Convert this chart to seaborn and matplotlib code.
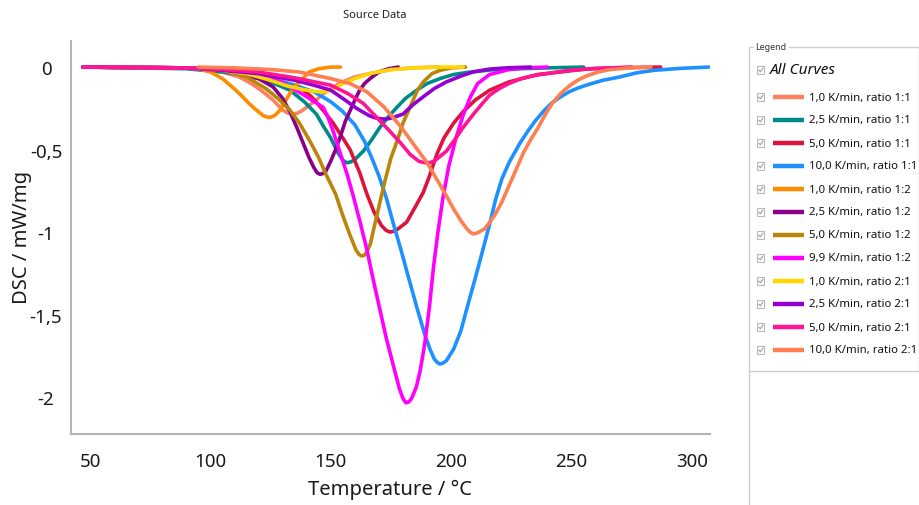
import matplotlib
matplotlib.use("Agg")
import matplotlib.pyplot as plt
import pandas as pd
import seaborn as sns
from matplotlib.lines import Line2D
from matplotlib.patches import Rectangle
from matplotlib.ticker import FuncFormatter

# ---- run labels and colours -------------------------------------------------
run_labels = [
    "1,0 K/min, ratio 1:1", "2,5 K/min, ratio 1:1", "5,0 K/min, ratio 1:1",
    "10,0 K/min, ratio 1:1", "1,0 K/min, ratio 1:2", "2,5 K/min, ratio 1:2",
    "5,0 K/min, ratio 1:2", "9,9 K/min, ratio 1:2", "1,0 K/min, ratio 2:1",
    "2,5 K/min, ratio 2:1", "5,0 K/min, ratio 2:1", "10,0 K/min, ratio 2:1",
]
run_colors = [
    "#FF8060", "#008B8B", "#DC143C", "#1E90FF", "#FF8C00", "#8B008B",
    "#B8860B", "#FF00FF", "#FFD700", "#9400D3", "#FF1493", "#FF7F50",
]

# ---- DSC signal (mW/mg) against temperature (°C) for each run ---------------
t_11_1 = [47, 90, 105, 112, 117, 121, 126, 130, 132, 134, 136, 138, 143, 148, 154, 160, 166, 175, 185, 195]
d_11_1 = [0, -0.005, -0.03, -0.06, -0.1, -0.14, -0.2, -0.26, -0.278, -0.285, -0.28, -0.265, -0.21,
          -0.15, -0.095, -0.06, -0.04, -0.015, -0.004, 0]

t_11_25 = [47, 90, 105, 115, 125, 133, 139, 144, 147, 150, 153, 155, 156.6, 158.3, 160, 163.5, 167,
           170.4, 174, 177.4, 181, 185.7, 190, 195.3, 201, 208, 216, 224, 240, 255]
d_11_25 = [0, -0.01, -0.03, -0.05, -0.09, -0.14, -0.21, -0.285, -0.36, -0.43, -0.52, -0.565, -0.58,
           -0.575, -0.56, -0.51, -0.44, -0.365, -0.3, -0.245, -0.19, -0.14, -0.1, -0.07, -0.045,
           -0.03, -0.018, -0.012, -0.005, 0]

t_11_5 = [47, 90, 105, 115, 125, 137, 142, 147, 151, 155, 158, 162, 165, 168, 171, 173, 174.6,
          176.3, 178, 181.5, 185, 188.4, 191, 194, 197, 201, 205, 210, 216, 224, 236, 256, 270, 287]
d_11_5 = [0, -0.005, -0.02, -0.04, -0.07, -0.12, -0.18, -0.265, -0.34, -0.43, -0.5, -0.64, -0.77,
          -0.88, -0.96, -0.99, -1.0, -0.995, -0.98, -0.94, -0.85, -0.76, -0.66, -0.53, -0.43,
          -0.34, -0.27, -0.2, -0.14, -0.09, -0.045, -0.012, -0.004, 0]

t_11_10 = [47, 90, 105, 120, 135, 143, 150, 155, 160, 164, 167, 170, 173, 176, 179, 182, 186,
           189, 191.2, 193, 194.2, 195.3, 196.5, 198, 201, 204, 206.4, 210, 213.3, 216, 218.5, 221,
           224, 228.6, 232, 235, 238.5, 242, 245.5, 249, 252.5, 256, 263, 270, 277, 284, 295, 307]
d_11_10 = [0, -0.005, -0.02, -0.05, -0.11, -0.15, -0.21, -0.27, -0.35, -0.45, -0.55, -0.66,
           -0.79, -0.95, -1.1, -1.26, -1.47, -1.62, -1.71, -1.77, -1.79, -1.8, -1.795, -1.78,
           -1.71, -1.6, -1.47, -1.28, -1.1, -0.95, -0.8, -0.68, -0.58, -0.46, -0.385, -0.325,
           -0.265, -0.215, -0.18, -0.15, -0.128, -0.11, -0.08, -0.06, -0.035, -0.02, -0.008, 0]

t_12_1 = [47, 90, 95, 100, 105, 109, 112, 116, 119, 122, 123.3, 124.5, 125.8, 127, 129, 131,
          133, 135, 137, 139, 141, 145, 150, 154]
d_12_1 = [0, -0.005, -0.01, -0.03, -0.07, -0.12, -0.16, -0.22, -0.26, -0.295, -0.302, -0.305,
          -0.3, -0.29, -0.26, -0.21, -0.16, -0.12, -0.09, -0.06, -0.03, -0.01, 0, 0]

t_12_25 = [47, 90, 105, 115, 120, 126, 130, 133, 136, 138.5, 141, 143, 144.3, 145.5, 146.8, 148,
           150, 152, 154, 156, 158, 160, 162, 164, 166.3, 170, 174, 178]
d_12_25 = [0, -0.005, -0.02, -0.05, -0.07, -0.12, -0.19, -0.27, -0.37, -0.46, -0.55, -0.61,
           -0.64, -0.65, -0.645, -0.63, -0.57, -0.5, -0.42, -0.33, -0.265, -0.2, -0.14, -0.1,
           -0.07, -0.03, -0.01, 0]

t_12_5 = [47, 90, 105, 115, 123, 128, 133, 137, 141, 145, 148, 152, 155, 158, 160.5, 161.7,
          162.8, 164, 165, 166.5, 168, 170.4, 172.5, 175, 177.5, 180, 183, 186, 188.4, 192, 195.3,
          200, 206]
d_12_5 = [0, -0.005, -0.02, -0.06, -0.13, -0.19, -0.26, -0.34, -0.44, -0.55, -0.65, -0.77,
          -0.9, -1.02, -1.11, -1.135, -1.145, -1.14, -1.12, -1.07, -0.97, -0.82, -0.69, -0.55,
          -0.45, -0.34, -0.24, -0.14, -0.09, -0.04, -0.02, -0.005, 0]

t_12_99 = [47, 90, 105, 120.6, 128, 134.3, 140, 146.9, 149, 151, 153, 155, 157, 159.3, 162,
           164.9, 167.5, 170.4, 173, 176, 178.5, 180, 181.2, 182.4, 183.5, 185.5, 187, 189, 191,
           192.6, 194.5, 196.5, 199, 202, 205, 208, 211, 216, 224, 232, 240]
d_12_99 = [0, -0.005, -0.015, -0.04, -0.08, -0.13, -0.18, -0.245, -0.31, -0.39, -0.48, -0.57,
           -0.66, -0.78, -0.93, -1.1, -1.28, -1.47, -1.64, -1.81, -1.95, -2.01, -2.035, -2.03,
           -2.01, -1.94, -1.85, -1.68, -1.45, -1.22, -1.0, -0.8, -0.6, -0.43, -0.29, -0.18,
           -0.1, -0.045, -0.015, -0.004, 0]

t_21_1 = [47, 90, 105, 115, 125, 132, 138, 142, 145, 148, 150, 155, 160, 166, 175, 185, 195, 205]
d_21_1 = [0, -0.005, -0.02, -0.04, -0.08, -0.115, -0.135, -0.145, -0.15, -0.148, -0.14, -0.1,
          -0.07, -0.04, -0.015, -0.005, 0, 0]

t_21_25 = [47, 90, 105, 120, 135, 143, 150, 155, 160.7, 166, 169, 171.8, 174, 176, 180, 184,
           188.4, 193, 198, 204, 209, 216, 224, 233]
d_21_25 = [0, -0.005, -0.02, -0.04, -0.08, -0.11, -0.14, -0.19, -0.25, -0.295, -0.31, -0.315,
           -0.313, -0.305, -0.285, -0.23, -0.18, -0.13, -0.09, -0.055, -0.03, -0.012, -0.004, 0]

t_21_5 = [47, 90, 105, 120, 135, 150, 157, 163.5, 170, 174.6, 179, 183, 186.5, 188.2, 189.8,
          191.4, 193, 198, 201.5, 205, 209, 213, 216, 220, 224, 229, 235, 249, 260, 275]
d_21_5 = [0, -0.005, -0.015, -0.03, -0.065, -0.11, -0.16, -0.22, -0.32, -0.39, -0.46, -0.53,
          -0.57, -0.578, -0.58, -0.578, -0.57, -0.51, -0.44, -0.365, -0.29, -0.22, -0.17, -0.13,
          -0.1, -0.07, -0.05, -0.02, -0.008, 0]

t_21_10 = [95, 110, 125, 137, 150, 158, 165, 172, 179, 185, 190, 194, 198, 201, 204, 206.5,
           207.8, 209, 210.3, 211.5, 214, 218, 221, 224, 227, 230, 233, 236, 239, 242, 245.5, 249,
           252.5, 256, 261, 266, 274, 283]
d_21_10 = [0, -0.005, -0.015, -0.03, -0.07, -0.1, -0.15, -0.24, -0.36, -0.48, -0.58, -0.68,
           -0.78, -0.86, -0.93, -0.98, -1.0, -1.01, -1.008, -1.0, -0.98, -0.9, -0.82, -0.72,
           -0.62, -0.52, -0.44, -0.37, -0.29, -0.22, -0.16, -0.115, -0.08, -0.055, -0.03,
           -0.015, -0.005, 0]

x_ticks = [50, 100, 150, 200, 250, 300]
y_ticks = [0, -0.5, -1, -1.5, -2]

runs = [
    (t_11_1, d_11_1), (t_11_25, d_11_25), (t_11_5, d_11_5), (t_11_10, d_11_10),
    (t_12_1, d_12_1), (t_12_25, d_12_25), (t_12_5, d_12_5), (t_12_99, d_12_99),
    (t_21_1, d_21_1), (t_21_25, d_21_25), (t_21_5, d_21_5), (t_21_10, d_21_10),
]
frames = []
for label, (t, d) in zip(run_labels, runs):
    frames.append(pd.DataFrame({"Temperature": t, "DSC": d, "run": label}))
df = pd.concat(frames, ignore_index=True)

# ---- styling ----------------------------------------------------------------
sns.set_theme(style="white")
plt.rcParams["font.family"] = ["Noto Sans", "DejaVu Sans"]

W, H = 920, 506
fig = plt.figure(figsize=(W / 100, H / 100), dpi=100)


def fx(x):
    return x / W


def fy(y):
    return 1 - y / H


ax_left, ax_right, ax_top, ax_bottom = 71, 710, 42, 435
ax_w, ax_h = ax_right - ax_left, ax_bottom - ax_top
ax = fig.add_axes([fx(ax_left), fy(ax_bottom), ax_w / W, ax_h / H])

sns.lineplot(
    data=df, x="Temperature", y="DSC", hue="run", hue_order=run_labels,
    palette=dict(zip(run_labels, run_colors)), sort=False, estimator=None,
    linewidth=2.6, legend=False, ax=ax, solid_capstyle="round", solid_joinstyle="round",
)

ax.set_xlim(42.1, 307.5)
ax.set_ylim(-2.224, 0.158)
ax.set_xticks(x_ticks)
ax.set_yticks(y_ticks)
comma = FuncFormatter(lambda v, _: f"{v:g}".replace(".", ","))
ax.xaxis.set_major_formatter(comma)
ax.yaxis.set_major_formatter(comma)

spine_col = "#b4b4b4"
for side in ("top", "right"):
    ax.spines[side].set_visible(False)
for side in ("left", "bottom"):
    ax.spines[side].set_color(spine_col)
    ax.spines[side].set_linewidth(1.5)
ax.tick_params(axis="both", which="major", length=4, width=1, color=spine_col,
               labelsize=13.5, labelcolor="#1a1a1a")
ax.tick_params(axis="x", pad=9)
ax.tick_params(axis="y", pad=14)
for lab in ax.get_yticklabels():
    lab.set_horizontalalignment("center")

ax.set_xlabel("Temperature / °C", fontsize=14.5, color="#1a1a1a")
ax.set_ylabel("DSC / mW/mg", fontsize=14.5, color="#1a1a1a")
ax.xaxis.set_label_coords((390 - ax_left) / ax_w, -(490 - ax_bottom) / ax_h)
ax.yaxis.set_label_coords(-(ax_left - 22) / ax_w, (ax_bottom - 237) / ax_h)
ax.xaxis.label.set_va("center")
ax.yaxis.label.set_va("center")

fig.text(fx(375), fy(15), "Source Data", fontsize=8, ha="center", va="center", color="#222222")

# ---- legend panel -----------------------------------------------------------
box_col = "#cfcfcf"
box_l, box_r, box_t, box_b = 749, 919, 48, 372


def hline(x0, x1, y, **kw):
    fig.add_artist(Line2D([fx(x0), fx(x1)], [fy(y), fy(y)], transform=fig.transFigure, **kw))


def vline(x, y0, y1, **kw):
    fig.add_artist(Line2D([fx(x), fx(x)], [fy(y0), fy(y1)], transform=fig.transFigure, **kw))


hline(box_l, 753, box_t, color=box_col, lw=1)
hline(789, box_r, box_t, color=box_col, lw=1)
hline(box_l, box_r, box_b, color=box_col, lw=1)
vline(box_l, box_t, H, color=box_col, lw=1)
vline(box_r, box_t, box_b, color=box_col, lw=1)
fig.text(fx(755), fy(box_t), "Legend", fontsize=6.4, ha="left", va="center", color="#333333")


def checkbox(x, y):
    s = 7.5
    fig.add_artist(Rectangle((fx(x), fy(y + s / 2)), s / W, s / H, transform=fig.transFigure,
                             facecolor="white", edgecolor="#b8b8b8", lw=0.8))
    fig.add_artist(Line2D([fx(x + 1.8), fx(x + 3.3), fx(x + 6.0)],
                          [fy(y + 0.2), fy(y + 1.8), fy(y - 2.0)],
                          transform=fig.transFigure, color="#9a9a9a", lw=0.8))


checkbox(757, 71)
fig.text(fx(770), fy(71), "All Curves", fontsize=11, style="italic", ha="left", va="center",
         color="#111111")

row0, row_step = 98, 23.0
for i, (label, col) in enumerate(zip(run_labels, run_colors)):
    y = row0 + i * row_step
    checkbox(757, y)
    hline(773, 804, y, color=col, lw=3.2, solid_capstyle="butt")
    fig.text(fx(809), fy(y), label, fontsize=8.2, ha="left", va="center", color="#111111")

fig.savefig("out.png", dpi=100)
